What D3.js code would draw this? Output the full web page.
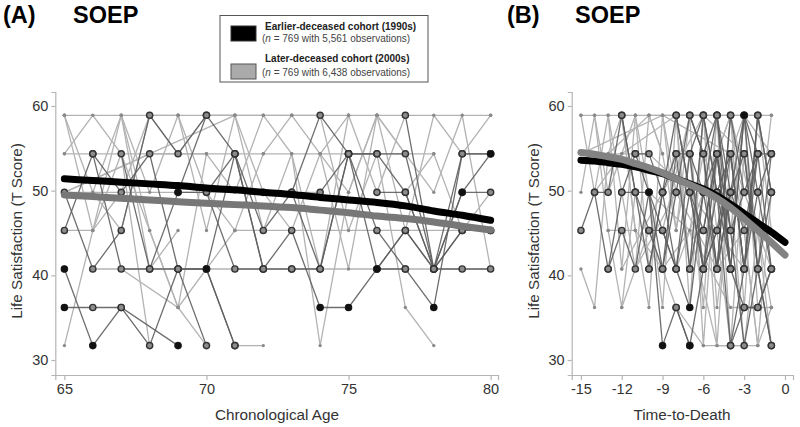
<!DOCTYPE html>
<html><head><meta charset="utf-8">
<script src="https://cdn.jsdelivr.net/npm/d3@7"></script>
<style>
body{margin:0;background:#fff;}
svg{display:block;font-family:Arial,"Liberation Sans",sans-serif;}
</style></head>
<body><svg id="c" width="800" height="427"></svg>
<script>
// ---------- DATA ----------
const tLevels = [31.7, 36.2, 40.75, 45.3, 49.8, 54.35, 58.9];

const ageTicks = [65, 70, 75, 80];
const ttdTicks = [-15, -12, -9, -6, -3, 0];
const yTicks = [30, 40, 50, 60];

// trend (model-implied) trajectories
const trendAges = [65,66,67,68,69,70,71,72,73,74,75,76,77,78,79,80];
const trendEarlyA = [51.4,51.2,51.0,50.8,50.6,50.3,50.1,49.8,49.55,49.2,48.9,48.6,48.2,47.6,47.1,46.5];
const trendLateA  = [49.5,49.3,49.1,48.9,48.7,48.5,48.35,48.2,48.0,47.7,47.4,47.0,46.7,46.3,45.8,45.35];
const trendTTD = [-15,-14,-13,-12,-11,-10,-9,-8,-7,-6,-5,-4,-3,-2,-1,0];
const trendEarlyB = [53.6,53.5,53.3,53.1,52.8,52.4,52.0,51.4,50.8,50.2,49.4,48.4,47.3,46.2,45.1,43.9];
const trendLateB  = [54.5,54.3,54.0,53.7,53.2,52.7,52.1,51.4,50.7,50.0,49.1,48.0,46.7,45.3,43.9,42.4];

// individual trajectories: pairs of (time, level index into tLevels)
const darkA = [
 [65,2, 66,0, 67,1, 68,0, 69,2, 70,2, 71,0],
 [65,1, 66,1, 67,1, 69,0],
 [65,4, 66,2, 67,3, 68,6, 69,5, 70,6],
 [65,3, 66,5, 67,4, 68,5, 69,2, 70,0],
 [66,5, 67,2, 68,2, 69,4, 70,4, 71,5, 72,2],
 [67,5, 68,2, 69,2, 70,2, 71,0],
 [69,4, 70,6, 71,5, 72,3, 73,4, 74,2, 75,5],
 [70,2, 71,5, 72,2, 73,3, 74,1, 75,1, 76,2, 77,2],
 [72,4, 73,4, 74,6, 75,5, 76,5, 77,4, 78,2, 79,5, 80,5],
 [73,2, 74,2, 75,5, 76,2, 77,3, 78,2, 79,4, 80,4],
 [75,5, 76,3, 77,2, 78,1, 79,5, 80,5],
 [76,2, 77,3, 78,2, 79,2, 80,2],
 [74,4, 75,5, 76,5, 77,5, 78,2, 79,3, 80,3],
 [76,4, 77,4, 78,2, 79,4, 80,5],
 [70,4, 71,2, 72,2, 73,2],
 [77,6, 78,2, 79,3, 80,3]
];
const lightA = [
 [65,6, 66,4, 67,6, 68,4, 69,6, 70,3, 71,6],
 [65,5, 66,6, 67,5, 68,3, 69,1, 70,0],
 [65,0, 66,3, 67,6, 68,2, 69,3],
 [65,6, 66,3, 67,5, 68,0],
 [66,4, 67,3, 68,6, 69,5, 70,6, 73,6],
 [65,3, 66,3, 67,4, 68,6, 69,6],
 [67,6, 68,3, 69,1, 70,5, 71,4, 72,6],
 [69,6, 70,4, 71,3, 72,5, 73,6, 74,5, 75,6],
 [70,6, 71,6, 72,4, 73,3, 74,5, 75,2, 76,6],
 [71,6, 72,3, 73,5, 74,0, 75,4, 76,6, 77,5],
 [72,6, 73,5, 74,2, 75,6, 76,4, 77,6],
 [73,6, 74,6, 75,3, 76,5, 77,1, 78,0],
 [74,5, 75,4, 76,6, 77,3, 78,6, 79,5, 80,6],
 [76,6, 77,5, 78,4, 79,6, 80,2],
 [77,4, 78,5, 79,3, 80,4],
 [65,4, 69,4, 74,4],
 [66,2, 70,2, 73,2, 77,2, 80,2],
 [65,6, 70,6, 75,6, 80,6],
 [65,5, 72,5, 78,5],
 [71,3, 73,3, 76,3, 79,3, 80,3],
 [65,4, 71,6],
 [65,4, 68,5, 70,5],
 [71,0, 72,0],
 [67,2, 69,1, 71,3]
];
const blackA = [[65,2],[65,1],[66,0],[69,4],[69,0],[70,2],[74,1],[75,1],[76,2],[78,1],[79,4],[80,5]];

const darkB = [
 [-15,3, -14,4, -13,2, -12,4, -11,5, -10,4, -9,2],
 [-14,4, -13,4, -12,6, -11,4, -10,3, -9,2, -8,4],
 [-13,2, -12,3, -11,2, -10,4, -9,0, -8,1, -7,0],
 [-12,4, -11,4, -10,4, -9,3, -8,2, -7,5, -6,6],
 [-11,5, -10,5, -9,4, -8,6, -7,4, -6,2, -5,5, -4,2],
 [-10,3, -9,3, -8,2, -7,1, -6,4, -5,2, -4,6],
 [-9,4, -8,5, -7,2, -6,6, -5,4, -4,0, -3,2, -2,5],
 [-8,6, -7,4, -6,3, -5,5, -4,2, -3,1, -2,1, -1,2],
 [-8,4, -7,6, -6,5, -5,2, -4,4, -3,6, -2,4, -1,5],
 [-7,5, -6,2, -5,3, -4,5, -3,2, -2,6, -1,4],
 [-7,2, -6,4, -5,6, -4,3, -3,0, -2,2, -1,0],
 [-6,6, -5,4, -4,5, -3,2, -2,4, -1,2],
 [-6,3, -5,5, -4,2, -3,6, -2,2, -1,4],
 [-5,6, -4,4, -3,5, -2,2, -1,5],
 [-5,2, -4,6, -3,4, -2,5, -1,2],
 [-4,5, -3,2, -2,6, -1,4],
 [-4,0, -3,1, -2,1, -1,2],
 [-8,1, -7,0, -6,2, -5,4, -4,2],
 [-10,2, -9,4, -8,2, -7,4, -6,2, -5,3, -4,4],
 [-3,5, -2,2, -1,0],
 [-9,2, -8,5, -7,5, -6,4, -5,5, -4,3, -3,4],
 [-7,6, -6,5, -5,6, -4,2, -3,6, -2,5],
 [-12,6, -11,4, -10,2, -9,4],
 [-6,5, -5,2, -4,4, -3,3, -2,5, -1,5]
];
const lightB = [
 [-15,6, -14,4, -13,6, -12,2, -11,6],
 [-15,4, -14,6, -13,3, -12,1, -11,4],
 [-15,2, -14,1, -13,5, -12,6, -11,3],
 [-14,6, -13,4, -12,5, -11,6, -10,2],
 [-13,6, -12,4, -11,2, -10,6, -9,5],
 [-12,6, -11,3, -10,1, -9,6, -8,4],
 [-11,6, -10,4, -9,1, -8,6, -7,2, -6,6],
 [-10,6, -9,5, -8,3, -7,6, -6,0, -5,5],
 [-9,6, -8,3, -7,5, -6,2, -5,6, -4,0],
 [-8,6, -7,1, -6,6, -5,3, -4,0, -3,5],
 [-15,5, -13,5, -10,6, -6,6, -2,6],
 [-15,6, -6,6],
 [-14,4, -12,5, -8,6, -5,6, -1,6],
 [-7,3, -6,5, -5,0, -4,5, -3,3, -2,0, -1,4],
 [-6,6, -5,1, -4,4, -3,0, -2,3, -1,6],
 [-5,5, -4,6, -3,1, -2,6, -1,3],
 [-4,6, -3,3, -2,0, -1,1],
 [-13,3, -11,3, -9,2, -7,3, -5,0, -3,0],
 [-12,1, -10,3, -8,1, -6,0, -4,0, -2,0],
 [-15,5, -9,6, -4,5, -1,2],
 [-12,2, -9,4, -6,6, -3,5, -1,1],
 [-11,2, -8,4, -5,2, -3,3, -1,3],
 [-10,4, -7,3, -4,1, -2,1, -1,1],
 [-9,3, -7,6, -5,4, -3,6, -1,5],
 [-8,2, -6,4, -4,6, -2,3, -1,0],
 [-14,5, -10,5, -7,4, -3,2],
 [-7,5, -6,1, -5,6, -4,3, -3,6, -2,1]
];
const blackB = [[-10,4],[-9,0],[-7,1],[-7,0],[-3,6]];

// ---------- DRAW ----------
const svg = d3.select("#c");
const toPts = arr => { const p=[]; for(let i=0;i<arr.length;i+=2) p.push([arr[i], tLevels[arr[i+1]]]); return p; };

function panel(cfg){
  const x = d3.scaleLinear().domain(cfg.xDomain).range(cfg.xRange);
  const y = d3.scaleLinear().domain([28.23, 61.65]).range([375, 92]);
  const g = svg.append("g");
  const line = d3.line().x(d=>x(d[0])).y(d=>y(d[1]));

  // axes
  const xa = g.append("g").attr("transform","translate(0,375)")
    .call(d3.axisBottom(x).tickValues(cfg.xTicks).tickSize(5).tickPadding(4).tickFormat(d=>String(d)));
  const ya = g.append("g").attr("transform",`translate(${cfg.xRange[0]},0)`)
    .call(d3.axisLeft(y).tickValues(yTicks).tickSize(4).tickPadding(3).tickFormat(d=>String(d)));
  [xa,ya].forEach(a=>{
    a.selectAll("path,line").attr("stroke","#b5b5b5").attr("stroke-width",1.2);
    a.selectAll("text").attr("fill","#333").style("font-size","14.5px").style("font-family","Arial, 'Liberation Sans', sans-serif");
  });

  const lt = cfg.light.map(toPts), dk = cfg.dark.map(toPts);
  g.append("g").selectAll("path").data(lt).join("path")
    .attr("d",line).attr("fill","none").attr("stroke","#b3b3b3").attr("stroke-width",1.3);
  g.append("g").selectAll("path").data(dk).join("path")
    .attr("d",line).attr("fill","none").attr("stroke","#5e5e5e").attr("stroke-opacity",0.9).attr("stroke-width",1.3);
  g.append("g").selectAll("circle").data(lt.flat()).join("circle")
    .attr("cx",d=>x(d[0])).attr("cy",d=>y(d[1])).attr("r",1.7).attr("fill","#8a8a8a");
  g.append("g").selectAll("circle").data(dk.flat()).join("circle")
    .attr("cx",d=>x(d[0])).attr("cy",d=>y(d[1])).attr("r",3.1)
    .attr("fill","#8c8c8c").attr("stroke","#333").attr("stroke-width",1.4);
  g.append("g").selectAll("circle").data(cfg.black.map(d=>[d[0],tLevels[d[1]]])).join("circle")
    .attr("cx",d=>x(d[0])).attr("cy",d=>y(d[1])).attr("r",3.4).attr("fill","#111");

  // trend lines
  const tl = d3.line().x(d=>x(d[0])).y(d=>y(d[1])).curve(d3.curveMonotoneX);
  const early = cfg.tx.map((t,i)=>[t,cfg.early[i]]);
  const late = cfg.tx.map((t,i)=>[t,cfg.late[i]]);
  g.append("path").attr("d",tl(early)).attr("fill","none").attr("stroke","#000")
    .attr("stroke-width",7).attr("stroke-linecap","round");
  g.append("path").attr("d",tl(late)).attr("fill","none").attr("stroke",cfg.lateColor)
    .attr("stroke-width",7).attr("stroke-linecap","round");

  // labels
  g.append("text").attr("transform",`translate(${cfg.ylabX},231) rotate(-90)`)
    .attr("text-anchor","middle").attr("dominant-baseline","central")
    .attr("fill","#333").style("font-size","15.3px").text("Life Satisfaction (T Score)");
  g.append("text").attr("x",cfg.xlabX).attr("y",420).attr("text-anchor","middle")
    .attr("fill","#333").style("font-size","15.3px").text(cfg.xlab);
  g.append("text").attr("x",cfg.tagX).attr("y",23).attr("font-weight","bold")
    .style("font-size","23.5px").attr("fill","#000").text(cfg.tag);
  g.append("text").attr("x",cfg.soepX).attr("y",23).attr("font-weight","bold")
    .style("font-size","23.5px").attr("fill","#000").text("SOEP");
}

panel({xDomain:[64.68,80.26], xRange:[55.3,498], xTicks:ageTicks, light:lightA, dark:darkA, black:blackA,
  tx:trendAges, early:trendEarlyA, late:trendLateA, lateColor:"#777",
  ylabX:16, xlabX:277, xlab:"Chronological Age", tag:"(A)", tagX:3, soepX:73});
panel({xDomain:[-15.68,0.59], xRange:[571.7,793], xTicks:ttdTicks, light:lightB, dark:darkB, black:blackB,
  tx:trendTTD, early:trendEarlyB, late:trendLateB, lateColor:"#828282",
  ylabX:533, xlabX:682, xlab:"Time-to-Death", tag:"(B)", tagX:507, soepX:575});

// legend
const lg = svg.append("g");
lg.append("rect").attr("x",220).attr("y",15.5).attr("width",208).attr("height",66.5)
  .attr("fill","#fff").attr("stroke","#555").attr("stroke-width",1);
lg.append("rect").attr("x",231).attr("y",26).attr("width",25).attr("height",15).attr("fill","#000").attr("stroke","#333");
lg.append("rect").attr("x",231).attr("y",64).attr("width",25).attr("height",15).attr("fill","#aaa").attr("stroke","#555");
const legText = [
  {x:265, y:30, t:"Earlier-deceased cohort (1990s)", b:true},
  {x:262, y:42, n:"769 with 5,561 observations)"},
  {x:265, y:61.5, t:"Later-deceased cohort (2000s)", b:true},
  {x:262, y:75.5, n:"769 with 6,438 observations)"}
];
legText.forEach(d=>{
  const t = lg.append("text").attr("x",d.x).attr("y",d.y).style("font-size","10px");
  if(d.b){ t.attr("font-weight","bold").attr("fill","#222").text(d.t); }
  else {
    t.attr("fill","#444");
    t.append("tspan").text("(");
    t.append("tspan").attr("font-style","italic").text("n");
    t.append("tspan").text(" = " + d.n);
  }
});
</script></body></html>
